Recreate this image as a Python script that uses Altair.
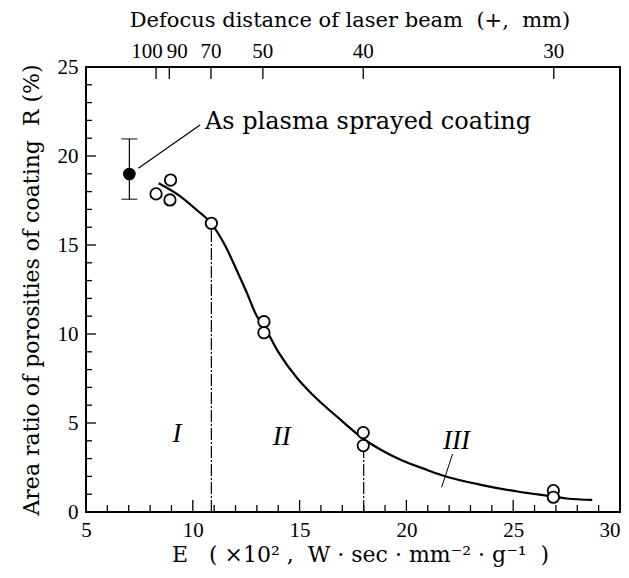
import altair as alt
import pandas as pd

TFONT = "Liberation Serif"
FONT = "DejaVu Serif"
NB = "\u00a0"
W, H = 534, 445

# ---- data ----
curve_E = [8.4, 9.4, 10.2, 10.87, 11.5, 12.05, 12.5, 13.0, 13.35, 14.0, 14.9, 15.6,
           16.9, 18.0, 18.8, 19.7, 21.0, 21.7, 23.6, 25.2, 26.8, 27.5, 28.7]
curve_R = [18.47, 17.75, 16.95, 16.2, 15.0, 13.6, 12.4, 11.0, 10.4, 9.0, 7.5, 6.6,
           5.2, 4.1, 3.5, 2.95, 2.35, 2.05, 1.5, 1.15, 0.88, 0.76, 0.68]

open_E = [8.28, 8.96, 8.93, 10.87, 13.33, 13.33, 17.98, 17.98, 26.88, 26.88]
open_R = [17.87, 18.65, 17.53, 16.22, 10.69, 10.07, 4.46, 3.73, 1.20, 0.83]

sprayed_E = [7.03]
sprayed_R = [18.99]
sprayed_lo = [17.57]
sprayed_hi = [20.96]

divider_E = [10.87, 18.0]
divider_top = [16.22, 3.73]

region_labels = ["I", "II", "III"]
region_E = [9.26, 14.16, 22.35]
region_R = [4.4, 4.2, 4.0]

region3_leader = {"E": [22.16], "R": [3.26], "E2": [21.65], "R2": [1.39]}
note_leader = {"E": [7.45], "R": [19.31], "E2": [10.34], "R2": [21.74]}
note_text = ["As plasma sprayed coating"]
note_E = [10.57]
note_R = [21.9]

defocus_labels = ["100", "90", "70", "50", "40", "30"]
defocus_E = [8.28, 8.9, 10.85, 13.28, 17.98, 26.9]

x_major = [10, 15, 20, 25]
x_minor = [6, 7, 8, 9, 11, 12, 13, 14, 16, 17, 18, 19, 21, 22, 23, 24, 26, 27, 28, 29]
y_major = [5, 10, 15, 20]
y_minor = [1, 2, 3, 4, 6, 7, 8, 9, 11, 12, 13, 14, 16, 17, 18, 19, 21, 22, 23, 24]

x_title = f"E{NB*3}({NB}×10²{NB},{NB*2}W{NB}·{NB}sec{NB}·{NB}mm⁻²{NB}·{NB}g⁻¹{NB*2})"
y_title = f"Area ratio of porosities of coating{NB*2}R{NB}(%)"
top_title_text = f"Defocus distance of laser beam{NB*2}(+,{NB*2}mm)"

# ---- scales and axes ----
xs = alt.Scale(domain=[5, 30], nice=False, zero=False)
ys = alt.Scale(domain=[0, 25], nice=False, zero=False)

x_axis = alt.Axis(values=[5, 10, 15, 20, 25, 30], ticks=False, domain=False, grid=False,
                  labelFont=TFONT, labelFontSize=21, labelPadding=7, labelColor="black",
                  labelFlush=False, format="d",
                  labelAlign={"condition": {"test": "datum.value == 30", "value": "right"}, "value": "center"},
                  title=x_title,
                  titleFont=FONT, titleFontSize=22, titleFontWeight="normal",
                  titleColor="black", titlePadding=4, titleX=274)
y_axis = alt.Axis(values=[0, 5, 10, 15, 20, 25], ticks=False, domain=False, grid=False,
                  labelFont=TFONT, labelFontSize=21, labelPadding=8, labelColor="black",
                  labelFlush=False, format="d",
                  title=y_title,
                  titleFont=FONT, titleFontSize=22, titleFontWeight="normal",
                  titleColor="black", titlePadding=14)

def X(field="E"):
    return alt.X(f"{field}:Q", scale=xs, axis=x_axis)

def Y(field="R"):
    return alt.Y(f"{field}:Q", scale=ys, axis=y_axis)

curve = alt.Chart(pd.DataFrame({"E": curve_E, "R": curve_R})).mark_line(
    color="black", strokeWidth=2.2, interpolate="monotone").encode(x=X(), y=Y())

open_pts = alt.Chart(pd.DataFrame({"E": open_E, "R": open_R})).mark_point(
    shape="circle", size=130, filled=True, fill="white", stroke="black", strokeWidth=1.8, opacity=1
).encode(x=X(), y=Y())

sp_df = pd.DataFrame({"E": sprayed_E, "R": sprayed_R, "lo": sprayed_lo, "hi": sprayed_hi})
err = alt.Chart(sp_df).mark_rule(color="black", strokeWidth=1.2).encode(x=X(), y=Y("lo"), y2="hi:Q")
cap_lo = alt.Chart(sp_df).mark_tick(orient="horizontal", size=16, thickness=1.4, color="black").encode(x=X(), y=Y("lo"))
cap_hi = alt.Chart(sp_df).mark_tick(orient="horizontal", size=16, thickness=1.4, color="black").encode(x=X(), y=Y("hi"))
sp_pt = alt.Chart(sp_df).mark_point(shape="circle", size=160, filled=True, color="black", opacity=1).encode(x=X(), y=Y())

div_df = pd.DataFrame({"E": divider_E, "top": divider_top, "zero": [0, 0]})
dividers = alt.Chart(div_df).mark_rule(color="black", strokeWidth=1.2, strokeDash=[12, 2, 2, 2]).encode(
    x=X(), y=Y("zero"), y2="top:Q")

regions = alt.Chart(pd.DataFrame({"lab": region_labels, "E": region_E, "R": region_R})).mark_text(
    font=TFONT, fontSize=27, fontStyle="italic", color="black").encode(x=X(), y=Y(), text="lab:N")

l3 = alt.Chart(pd.DataFrame(region3_leader)).mark_rule(color="black", strokeWidth=1).encode(
    x=X(), y=Y(), x2="E2:Q", y2="R2:Q")
nl = alt.Chart(pd.DataFrame(note_leader)).mark_rule(color="black", strokeWidth=1.2).encode(
    x=X(), y=Y(), x2="E2:Q", y2="R2:Q")
note = alt.Chart(pd.DataFrame({"t": note_text, "E": note_E, "R": note_R})).mark_text(
    font=FONT, fontSize=24, align="left", baseline="middle", color="black").encode(x=X(), y=Y(), text="t:N")

# inward ticks
xmaj = alt.Chart(pd.DataFrame({"E": x_major})).mark_rule(color="black", strokeWidth=1.3).encode(
    x=X(), y=alt.value(H), y2=alt.value(H - 12))
xmin = alt.Chart(pd.DataFrame({"E": x_minor})).mark_rule(color="black", strokeWidth=1.3).encode(
    x=X(), y=alt.value(H), y2=alt.value(H - 7))
ymaj = alt.Chart(pd.DataFrame({"R": y_major})).mark_rule(color="black", strokeWidth=1.3).encode(
    y=Y(), x=alt.value(0), x2=alt.value(10))
ymin = alt.Chart(pd.DataFrame({"R": y_minor})).mark_rule(color="black", strokeWidth=1.3).encode(
    y=Y(), x=alt.value(0), x2=alt.value(6))

top_df = pd.DataFrame({"E": defocus_E, "lab": defocus_labels})
top_ticks = alt.Chart(top_df).mark_rule(color="black", strokeWidth=1.3).encode(
    x=X(), y=alt.value(0), y2=alt.value(12))
top_base = alt.Chart(top_df).mark_text(font=TFONT, fontSize=21, baseline="middle", color="black")
top_l100 = top_base.encode(x=X(), y=alt.value(-15), text="lab:N").transform_filter("datum.lab == '100'").mark_text(
    font=TFONT, fontSize=21, baseline="middle", color="black", dx=-9)
top_l90 = top_base.encode(x=X(), y=alt.value(-15), text="lab:N").transform_filter("datum.lab == '90'").mark_text(
    font=TFONT, fontSize=21, baseline="middle", color="black", dx=8)
top_rest = top_base.encode(x=X(), y=alt.value(-15), text="lab:N").transform_filter(
    "datum.lab != '100' && datum.lab != '90'")
top_title = alt.Chart(pd.DataFrame({"t": [top_title_text]})).mark_text(
    font=FONT, fontSize=21, baseline="middle", color="black").encode(
    x=alt.value(264), y=alt.value(-46), text="t:N")

chart = alt.layer(
    dividers, curve, err, cap_lo, cap_hi, sp_pt, open_pts, regions, l3, nl, note,
    xmaj, xmin, ymaj, ymin, top_ticks, top_l100, top_l90, top_rest, top_title
).properties(
    width=W, height=H,
    autosize=alt.AutoSizeParams(type="none"),
    padding={"left": 78, "top": 59, "right": 1, "bottom": 58},
    background="white",
).configure_view(stroke="black", strokeWidth=2)

chart.save("out.html", embed_options={"renderer": "svg", "actions": False})
